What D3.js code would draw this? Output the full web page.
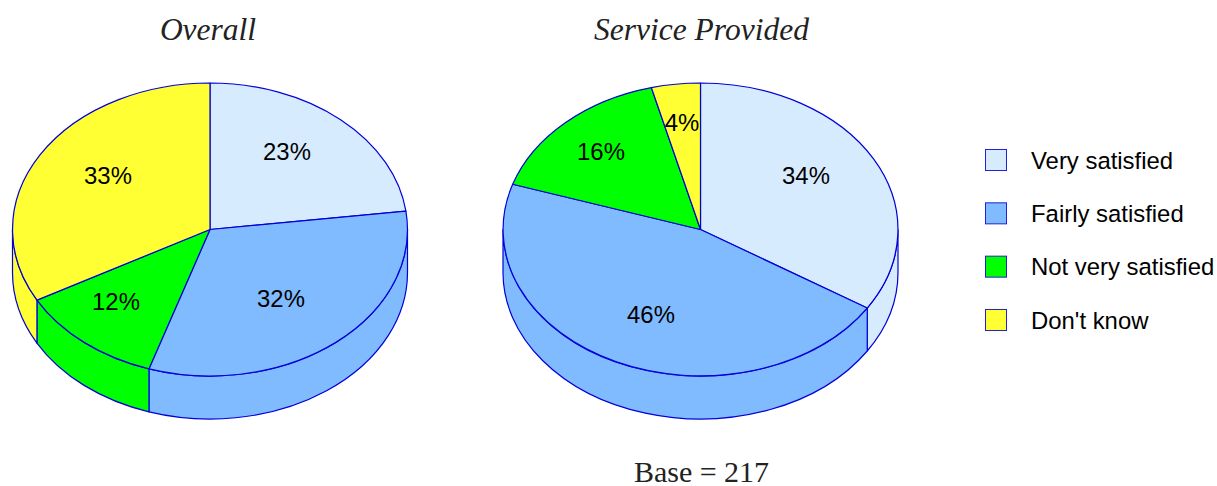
<!DOCTYPE html>
<html>
<head>
<meta charset="utf-8">
<script src="https://cdnjs.cloudflare.com/ajax/libs/d3/7.8.5/d3.min.js"></script>
<style>
  html, body { margin: 0; padding: 0; background: #fff; }
  svg { display: block; }
  .pct, .legend-label { font-family: "Liberation Sans", Arial, sans-serif; font-size: 23.9px; fill: #000; }
  .title { font-family: "Liberation Serif", serif; font-style: italic; font-size: 31.5px; fill: #222; text-anchor: middle; }
  .base { font-family: "Liberation Serif", serif; font-size: 30px; fill: #222; text-anchor: middle; }
  .slice, .wall { stroke: #0000d8; stroke-width: 1.2px; stroke-linejoin: round; vector-effect: non-scaling-stroke; }
</style>
</head>
<body>
<div id="chart"></div>
<script>
const widthValue = 1217;
const heightValue = 486;

// Data
const categories = ["Very satisfied", "Fairly satisfied", "Not very satisfied", "Don't know"];
const overallValues = [23, 32, 12, 33];
const serviceValues = [34, 46, 16, 4];
const chartTitles = ["Overall", "Service Provided"];
const baseLabel = "Base = 217";

const colours = ["#d7ebff", "#80bbff", "#00ff00", "#ffff33"];

// Layout
const rx = 197.5;
const ry = 146.5;
const depth = 43;
const cy = 229.5;
const centres = [210, 700.5];
const titleX = [208, 701.5];
// label offsets from pie centre, in the order of the values
const overallLabelPos = [[77, -78], [71, 69], [-94, 72], [-102, -54]];
const serviceLabelPos = [[105.5, -54], [-49.5, 85], [-99.5, -78], [-18.5, -107]];

const svg = d3.select("#chart")
  .append("svg")
  .attr("width", widthValue)
  .attr("height", heightValue)
  .attr("viewBox", `0 0 ${widthValue} ${heightValue}`);

const pie = d3.pie().sort(null).value(d => d);
const arc = d3.arc().innerRadius(0).outerRadius(1);
const colour = d3.scaleOrdinal().domain(categories).range(colours);

// Side of the disc: only the part of a slice on the front half is visible.
// d3 pie angles start at 12 o'clock, d3.path angles at 3 o'clock.
function wallPath(d) {
  const a0 = Math.max(d.startAngle, Math.PI / 2);
  const a1 = Math.min(d.endAngle, Math.PI * 3 / 2);
  if (a0 >= a1) return null;
  const h = depth / ry;
  const p = d3.path();
  p.moveTo(Math.sin(a0), -Math.cos(a0));
  p.arc(0, 0, 1, a0 - Math.PI / 2, a1 - Math.PI / 2, false);
  p.lineTo(Math.sin(a1), -Math.cos(a1) + h);
  p.arc(0, h, 1, a1 - Math.PI / 2, a0 - Math.PI / 2, true);
  p.closePath();
  return p.toString();
}

function drawPie(values, cx, labelPos, title, tx) {
  const arcs = pie(values);
  const g = svg.append("g");
  const disc = g.append("g")
    .attr("transform", `translate(${cx},${cy}) scale(${rx},${ry})`);

  disc.selectAll(".wall")
    .data(arcs.filter(d => wallPath(d)))
    .join("path")
    .attr("class", "wall")
    .attr("fill", d => colour(categories[d.index]))
    .attr("d", wallPath);

  disc.selectAll(".slice")
    .data(arcs)
    .join("path")
    .attr("class", "slice")
    .attr("fill", d => colour(categories[d.index]))
    .attr("d", arc);

  g.selectAll(".pct")
    .data(arcs)
    .join("text")
    .attr("class", "pct")
    .attr("text-anchor", "middle")
    .attr("x", d => cx + labelPos[d.index][0])
    .attr("y", d => cy + labelPos[d.index][1] + 8.5)
    .text(d => d.data + "%");

  g.append("text")
    .attr("class", "title")
    .attr("x", tx)
    .attr("y", 40)
    .text(title);
}

drawPie(overallValues, centres[0], overallLabelPos, chartTitles[0], titleX[0]);
drawPie(serviceValues, centres[1], serviceLabelPos, chartTitles[1], titleX[1]);

svg.append("text")
  .attr("class", "base")
  .attr("x", 701.5)
  .attr("y", 482)
  .text(baseLabel);

// Legend
const legendY = d3.scalePoint().domain(categories).range([160, 320]);
const legend = svg.selectAll(".legend")
  .data(categories)
  .join("g")
  .attr("class", "legend")
  .attr("transform", d => `translate(985,${legendY(d)})`);

legend.append("rect")
  .attr("x", 0.5)
  .attr("y", -10.5)
  .attr("width", 21)
  .attr("height", 21)
  .attr("fill", d => colour(d))
  .attr("stroke", "#2020d8")
  .attr("stroke-width", 1);

legend.append("text")
  .attr("class", "legend-label")
  .attr("x", 46)
  .attr("y", 8.5)
  .text(d => d);
</script>
</body>
</html>
